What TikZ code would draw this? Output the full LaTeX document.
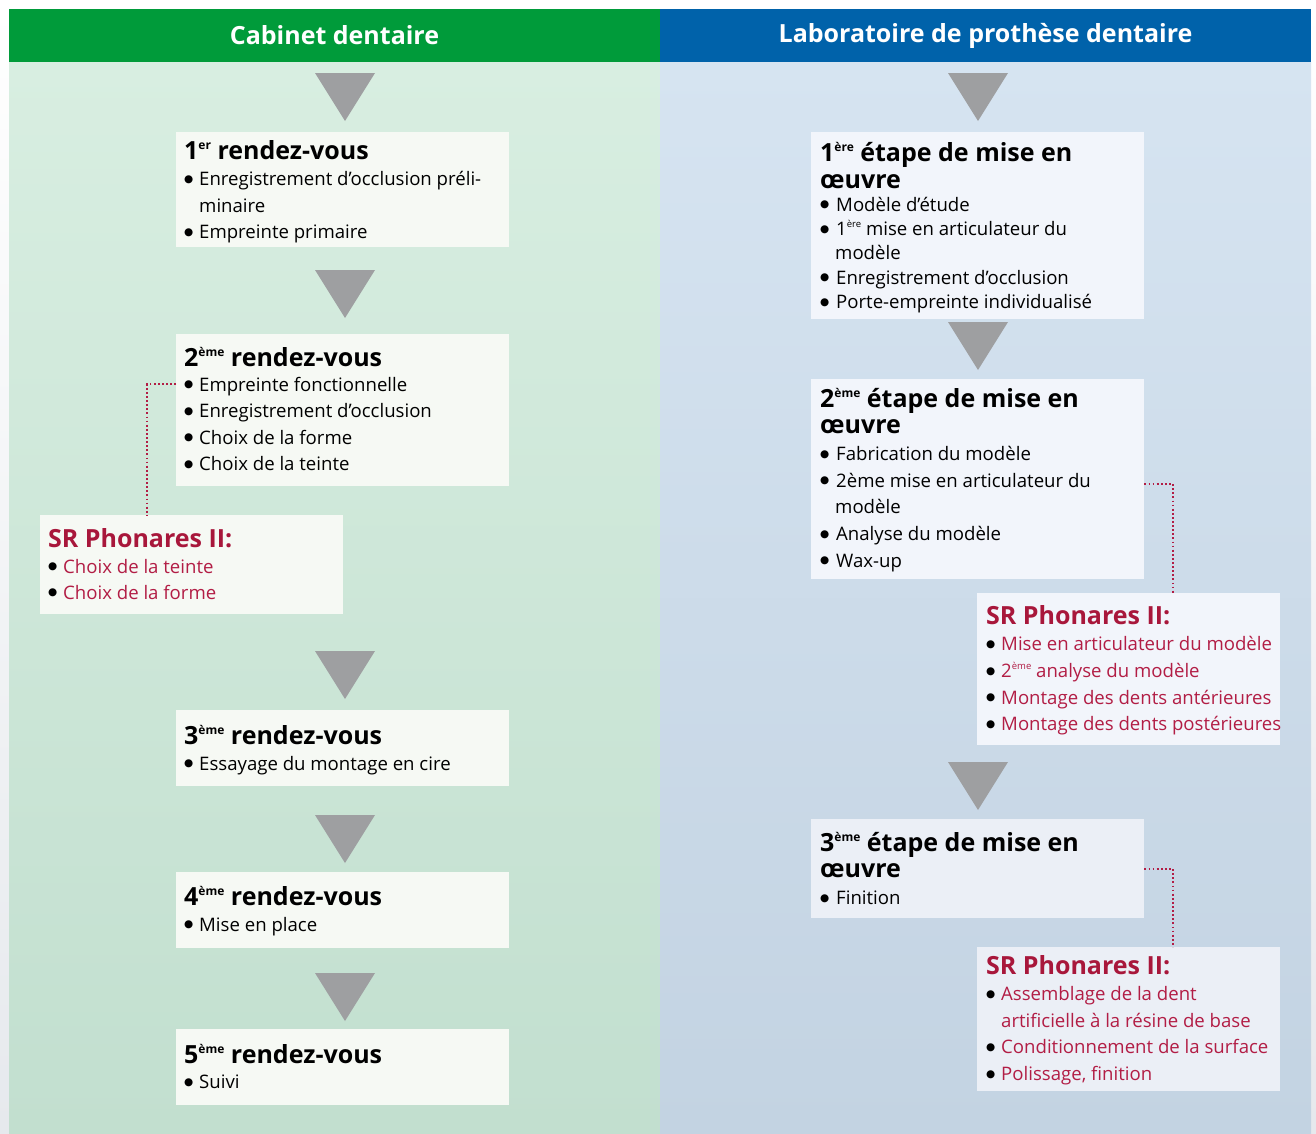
\documentclass[tikz,border=0pt]{standalone}
\usepackage{fontspec}
\setmainfont{Open Sans}
\newfontfamily\djv{DejaVu Sans}
\usetikzlibrary{calc}
\definecolor{greenHead}{HTML}{009B3A}
\definecolor{blueHead}{HTML}{0062AA}
\definecolor{bgLtop}{HTML}{D8EEE1}
\definecolor{bgLbot}{HTML}{C2DFCF}
\definecolor{bgRtop}{HTML}{D6E4F1}
\definecolor{bgRbot}{HTML}{C3D3E2}
\definecolor{boxLc}{HTML}{F6F9F4}
\definecolor{boxRc}{HTML}{F2F5FB}
\definecolor{boxRd}{HTML}{EBEFF6}
\definecolor{srred}{HTML}{B21D45}
\definecolor{srhead}{HTML}{A8173B}
\definecolor{trigray}{HTML}{9E9FA1}
\definecolor{marg}{HTML}{E6E9ED}
\newcommand\hdf{\fontsize{25}{25}\selectfont\bfseries}
\newcommand\bdf{\fontsize{18.6}{18.6}\selectfont}
\newcommand\supH[1]{\raisebox{9.5pt}{\fontsize{12}{12}\selectfont #1}}
\newcommand\supB[1]{\raisebox{7.5pt}{\fontsize{9.5}{9.5}\selectfont #1}}
\newcommand\ligne[1]{\hbox{#1}}
\newcommand\bigdot{\raisebox{3.4pt}{\djv\fontsize{10.5}{10.5}\selectfont\textcolor{black}{●}}}
\newcommand\bul{\makebox[15pt][l]{\bigdot}}
\newcommand\bulR{\makebox[16pt][l]{\bigdot}}
\newcommand\ind{\hspace*{15pt}}
\newcommand\stack[2]{\vtop{\baselineskip=#1pt\lineskiplimit=-\maxdimen\lineskip=0pt #2}}
\newcommand\rd[1]{\textcolor{srred}{#1}}
\tikzset{
  boxL/.style={fill=boxLc, draw=none, anchor=north west, inner sep=0pt, minimum width=333pt},
  boxR/.style={fill=boxRc, draw=none, anchor=north west, inner sep=0pt, minimum width=333pt},
  boxSR/.style={draw=none, anchor=north west, inner sep=0pt, minimum width=303pt},
  txt/.style={anchor=base west, inner sep=0pt, font=\bdf, text=black},
  head/.style={inner sep=0pt, minimum height=53pt, text=white, font=\fontsize{25}{25}\selectfont\bfseries},
  tri/.style={fill=trigray},
  conn/.style={draw=srred, line width=1.8pt, dash pattern=on 1.8pt off 2.3pt}
}
\begin{document}
\begin{tikzpicture}[x=1pt,y=-1pt]
\useasboundingbox (0,0) rectangle (1316,1133);
\shade[top color=white, bottom color=marg] (0,0) rectangle (1316,1133);
% columns
\shade[top color=bgLtop, bottom color=bgLbot] (9,62) rectangle (660,1133);
\shade[top color=bgRtop, bottom color=bgRbot] (660,62) rectangle (1311,1133);
\node[head, fill=greenHead, minimum width=651pt] (hL) at (334.5,35.5) {Cabinet dentaire};
\node[head, fill=blueHead, minimum width=651pt] (hR) at (985.5,35.5) {Laboratoire de prothèse dentaire};

% triangles left
\foreach \y in {73,270,651,815,973}
  \fill[tri] (315,\y) -- (375,\y) -- (345,\y+48) -- cycle;
% triangles right
\foreach \y in {73,322,762}
  \fill[tri] (948,\y) -- (1008,\y) -- (978,\y+48) -- cycle;

% ---------- left column ----------
\node[boxL, minimum height=115pt] (b1) at (176,132) {};
\node[txt] (t1) at (184,159) {\stack{26.5}{%
  \ligne{\hdf 1\supH{er} rendez-vous}
  \ligne{\bul Enregistrement d’occlusion préli-}
  \ligne{\ind minaire}
  \ligne{\bul Empreinte primaire}}};

\node[boxL, minimum height=152pt] (b2) at (176,334) {};
\node[txt] (t2) at (184,366) {\stack{26.6}{%
  \ligne{\hdf 2\supH{ème} rendez-vous}
  \kern-1.5pt
  \ligne{\bul Empreinte fonctionnelle}
  \ligne{\bul Enregistrement d’occlusion}
  \ligne{\bul Choix de la forme}
  \ligne{\bul Choix de la teinte}}};

\node[boxSR, fill=boxLc, minimum height=99pt] (s1) at (40,515) {};
\node[txt] (ts1) at (48,547) {\stack{26}{%
  \ligne{\hdf\color{srhead}SR Phonares II:}
  \ligne{\bul\rd{Choix de la teinte}}
  \ligne{\bul\rd{Choix de la forme}}}};

\node[boxL, minimum height=76pt] (b3) at (176,710) {};
\node[txt] (t3) at (184,744) {\stack{26}{%
  \ligne{\hdf 3\supH{ème} rendez-vous}
  \ligne{\bul Essayage du montage en cire}}};

\node[boxL, minimum height=76pt] (b4) at (176,872) {};
\node[txt] (t4) at (184,905) {\stack{26}{%
  \ligne{\hdf 4\supH{ème} rendez-vous}
  \ligne{\bul Mise en place}}};

\node[boxL, minimum height=76pt] (b5) at (176,1029) {};
\node[txt] (t5) at (184,1063) {\stack{25.5}{%
  \ligne{\hdf 5\supH{ème} rendez-vous}
  \ligne{\bul Suivi}}};

% ---------- right column ----------
\node[boxR, minimum height=187pt] (r1) at (811,132) {};
\node[txt] (tr1) at (820,161) {\stack{24.4}{%
  \ligne{\hdf 1\supH{ère} étape de mise en}
  \kern2.6pt
  \ligne{\hdf œuvre}
  \kern-1.4pt
  \ligne{\bulR Modèle d’étude}
  \ligne{\bulR 1\supB{ère} mise en articulateur du}
  \ligne{\ind modèle}
  \ligne{\bulR Enregistrement d’occlusion}
  \ligne{\bulR Porte-empreinte individualisé}}};

\node[boxR, minimum height=200pt] (r2) at (811,379) {};
\node[txt] (tr2) at (820,407) {\stack{26.7}{%
  \ligne{\hdf 2\supH{ème} étape de mise en}
  \ligne{\hdf œuvre}
  \ligne{\bulR Fabrication du modèle}
  \ligne{\bulR 2ème mise en articulateur du}
  \ligne{\ind modèle}
  \ligne{\bulR Analyse du modèle}
  \ligne{\bulR Wax-up}}};

\node[boxSR, fill=boxRc, minimum height=152pt] (s2) at (977,593) {};
\node[txt] (ts2) at (986,624) {\stack{26.7}{%
  \ligne{\hdf\color{srhead}SR Phonares II:}
  \ligne{\bul\rd{Mise en articulateur du modèle}}
  \ligne{\bul\rd{2\supB{ème} analyse du modèle}}
  \ligne{\bul\rd{Montage des dents antérieures}}
  \ligne{\bul\rd{Montage des dents postérieures}}}};

\node[boxR, fill=boxRd, minimum height=99pt] (r3) at (811,819) {};
\node[txt] (tr3) at (820,851) {\stack{26.8}{%
  \ligne{\hdf 3\supH{ème} étape de mise en}
  \ligne{\hdf œuvre}
  \ligne{\bulR Finition}}};

\node[boxSR, fill=boxRd, minimum height=144pt] (s3) at (977,947) {};
\node[txt] (ts3) at (986,974) {\stack{26.6}{%
  \ligne{\hdf\color{srhead}SR Phonares II:}
  \ligne{\bul\rd{Assemblage de la dent}}
  \ligne{\ind\rd{artificielle à la résine de base}}
  \ligne{\bul\rd{Conditionnement de la surface}}
  \ligne{\bul\rd{Polissage, finition}}}};

% ---------- dotted connectors ----------
\coordinate (k1) at (147,384);
\coordinate (k2) at (1173,484);
\coordinate (k3) at (1173,869);
\draw[conn] (k1 -| b2.west) -- (k1) -- (k1 |- s1.north);
\draw[conn] (k2 -| r2.east) -- (k2) -- (k2 |- s2.north);
\draw[conn] (k3 -| r3.east) -- (k3) -- (k3 |- s3.north);
\end{tikzpicture}
\end{document}
